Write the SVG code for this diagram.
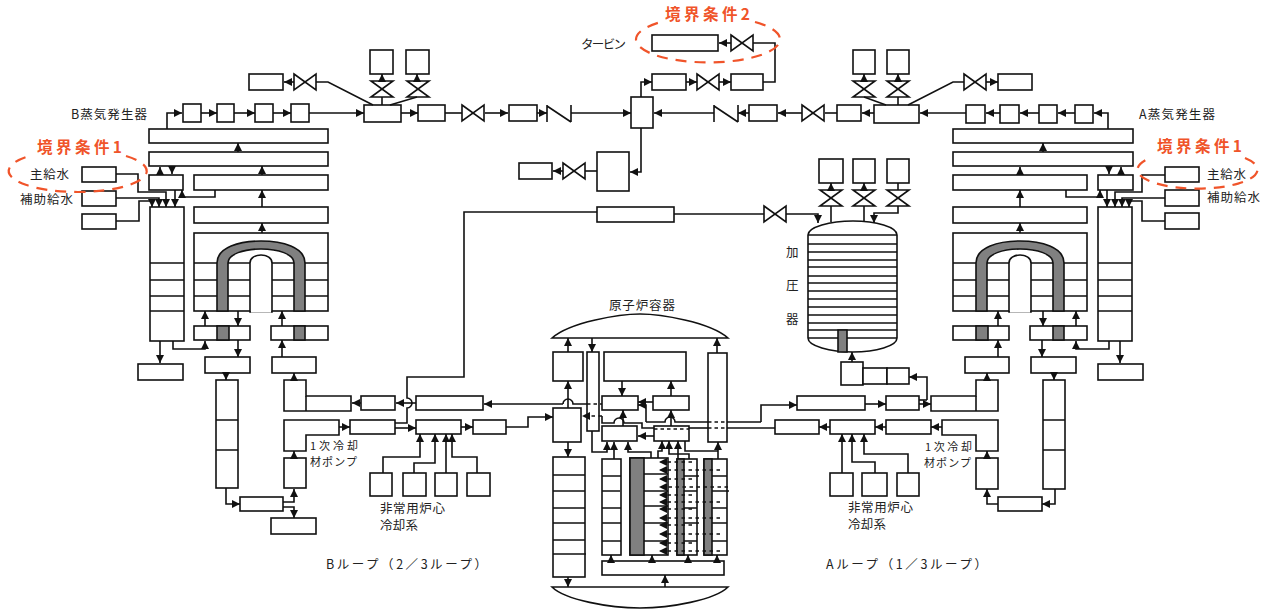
<svg xmlns="http://www.w3.org/2000/svg" xmlns:xlink="http://www.w3.org/1999/xlink" width="1268" height="610" viewBox="0 0 1268 610">
<style>
.b{fill:#fff;stroke:#111;stroke-width:1.6}
.g{fill:#808080;stroke:#111;stroke-width:1.6}
.l,.c,.a,.d,.e{fill:none;stroke:#111;stroke-width:1.6}
.a,.d{marker-end:url(#ah)}
.d{stroke-dasharray:3.5 3.5}
.e{stroke-dasharray:3.5 3}
.t{font-family:"Noto Sans CJK JP","Noto Sans",sans-serif;font-size:12.5px;fill:#222}
.s{font-size:11px}
.o{font-family:"Noto Sans CJK JP","Noto Sans",sans-serif;font-size:15.5px;font-weight:700;fill:#F0542A}
.r{fill:none;stroke:#F0542A;stroke-width:2.2;stroke-dasharray:11 8}
</style>
<defs>
<marker id="ah" markerUnits="userSpaceOnUse" markerWidth="9" markerHeight="9" refX="8" refY="4" orient="auto"><path d="M0,0L8,4L0,8z" fill="#111"/></marker>
<path id="vh" class="b" d="M0,0L22,16V0L0,16Z"/>
<path id="vv" class="b" d="M0,0H22L0,16H22Z"/>
<path id="cv" class="l" d="M0,0V17M0,1L24,17M24,0V17"/>
<g id="tubes">
<rect class="b" x="194" y="233" width="134" height="78"/>
<path class="l" d="M194,263H217M228,263H250M272,263H294M305,263H328M194,280H217M228,280H250M272,280H294M305,280H328M194,296H217M228,296H250M272,296H294M305,296H328"/>
<path class="g" d="M217,311V263C217,247 240,241 261,241C282,241 305,247 305,263V311H294V263C294,254 278,249 261,249C244,249 228,254 228,263V311Z"/>
<path d="M250,312V263C250,258 255,255 261,255C267,255 272,258 272,263V312Z" fill="#fff" stroke="#111" stroke-width="1.6"/>
<path d="M251,311.5H271" stroke="#fff" stroke-width="2.2"/>
</g>
<g id="plena">
<rect class="b" x="194" y="326" width="56" height="14"/><rect class="g" x="217" y="326" width="12" height="14"/>
<rect class="b" x="271" y="326" width="57" height="14"/><rect class="g" x="294" y="326" width="11" height="14"/>
</g>
<g id="col"><rect class="b" x="150" y="207" width="34" height="134"/><path class="l" d="M150,263H184M150,280H184M150,296H184M150,311H184"/></g>
</defs>

<g id="sg-b">
<use xlink:href="#tubes" href="#tubes"/><use xlink:href="#plena" href="#plena"/><use xlink:href="#col" href="#col"/>
<rect class="b" x="149" y="129" width="179" height="14"/><rect class="b" x="149" y="152" width="179" height="14"/>
<rect class="b" x="149" y="175" width="34" height="15"/><rect class="b" x="194" y="175" width="134" height="15"/><rect class="b" x="194" y="207" width="134" height="16"/>
</g>
<g id="sg-a">
<use xlink:href="#tubes" href="#tubes" x="759"/><use xlink:href="#plena" href="#plena" x="759"/><use xlink:href="#col" href="#col" x="948"/>
<rect class="b" x="953" y="129" width="180" height="14"/><rect class="b" x="953" y="152" width="180" height="14"/>
<rect class="b" x="1098" y="175" width="35" height="15"/><rect class="b" x="953" y="175" width="134" height="15"/><rect class="b" x="953" y="207" width="134" height="16"/>
</g>
<g id="feed-b"><rect class="b" x="82" y="167" width="34" height="15"/><rect class="b" x="82" y="191" width="34" height="15"/><rect class="b" x="82" y="214" width="34" height="15"/></g>
<g id="feed-a"><rect class="b" x="1165" y="167" width="34" height="15"/><rect class="b" x="1165" y="190" width="34" height="16"/><rect class="b" x="1165" y="213" width="34" height="16"/></g>
<g id="steam-b">
<rect class="b" x="249" y="74" width="34" height="16"/><use xlink:href="#vh" href="#vh" x="294" y="74"/>
<rect class="b" x="183" y="104" width="18" height="18"/><rect class="b" x="217" y="104" width="17" height="18"/><rect class="b" x="255" y="104" width="18" height="18"/><rect class="b" x="291" y="104" width="18" height="18"/>
<rect class="b" x="364" y="105" width="37" height="17"/>
<rect class="b" x="370" y="50" width="23" height="24"/><rect class="b" x="406" y="50" width="23" height="24"/>
<use xlink:href="#vv" href="#vv" x="371" y="81"/><use xlink:href="#vv" href="#vv" x="407" y="81"/>
<rect class="b" x="418" y="105" width="27" height="16"/><use xlink:href="#vh" href="#vh" x="462" y="105"/><rect class="b" x="509" y="105" width="28" height="16"/><use xlink:href="#cv" href="#cv" x="547" y="105"/>
</g>
<g id="steam-a">
<rect class="b" x="998" y="74" width="34" height="16"/><use xlink:href="#vh" href="#vh" x="964" y="74"/>
<rect class="b" x="966" y="105" width="19" height="18"/><rect class="b" x="1000" y="105" width="19" height="18"/><rect class="b" x="1039" y="105" width="18" height="18"/><rect class="b" x="1075" y="105" width="18" height="18"/>
<rect class="b" x="874" y="105" width="45" height="18"/>
<rect class="b" x="853" y="50" width="22" height="24"/><rect class="b" x="887" y="50" width="22" height="24"/>
<use xlink:href="#vv" href="#vv" x="853" y="81"/><use xlink:href="#vv" href="#vv" x="887" y="81"/>
<rect class="b" x="837" y="105" width="24" height="16"/><use xlink:href="#vh" href="#vh" x="802" y="105"/><rect class="b" x="749" y="105" width="28" height="16"/><use xlink:href="#cv" href="#cv" x="714" y="105"/>
</g>
<g id="turbine">
<rect class="b" x="631" y="97" width="22" height="31"/>
<rect class="b" x="652" y="74" width="34" height="16"/><use xlink:href="#vh" href="#vh" x="697" y="74"/><rect class="b" x="731" y="74" width="32" height="16"/>
<rect class="b" x="652" y="35" width="66" height="16"/><use xlink:href="#vh" href="#vh" x="731" y="35"/>
<rect class="b" x="597" y="152" width="32" height="39"/><use xlink:href="#vh" href="#vh" x="563" y="163"/><rect class="b" x="519" y="163" width="33" height="16"/>
</g>
<g id="pressurizer">
<path class="b" d="M808,235C808,227 830,221 853,221C876,221 897,227 897,235V338C897,346 876,352 853,352C830,352 808,346 808,338Z"/>
<path class="l" d="M808,235H897M808,244H897M808,252H897M808,260H897M808,267H897M808,276H897M808,283H897M808,291H897M808,299H897M808,307H897M808,315H897M808,323H897M808,330H897M808,338H897"/>
<path class="g" d="M838,330H847V352H838Z"/>
<rect class="b" x="819" y="159" width="24" height="24"/><rect class="b" x="853" y="159" width="22" height="24"/><rect class="b" x="887" y="159" width="22" height="24"/>
<use xlink:href="#vv" href="#vv" x="820" y="190"/><use xlink:href="#vv" href="#vv" x="853" y="190"/><use xlink:href="#vv" href="#vv" x="887" y="190"/>
<rect class="b" x="597" y="207" width="77" height="15"/><use xlink:href="#vh" href="#vh" x="764" y="206"/>
<rect class="b" x="841" y="362" width="22" height="23"/><rect class="b" x="863" y="368" width="24" height="16"/><rect class="b" x="887" y="368" width="22" height="16"/>
</g>
<g id="loop-b">
<rect class="b" x="138" y="364" width="45" height="16"/><rect class="b" x="205" y="357" width="45" height="16"/><rect class="b" x="272" y="357" width="44" height="16"/>
<rect class="b" x="216" y="380" width="22" height="108"/><path class="l" d="M216,420H238M216,450H238"/>
<path class="b" d="M284,380H306V396H351V411H284Z"/><path class="l" d="M306,396V411"/>
<path class="b" d="M284,420H339V435H306V451H284Z"/>
<rect class="b" x="284" y="458" width="22" height="30"/><rect class="b" x="240" y="497" width="43" height="14"/><rect class="b" x="271" y="518" width="45" height="16"/>
<rect class="b" x="361" y="396" width="34" height="14"/><rect class="b" x="416" y="396" width="67" height="14"/>
<rect class="b" x="350" y="420" width="45" height="14"/><rect class="b" x="416" y="420" width="45" height="14"/><rect class="b" x="473" y="420" width="33" height="14"/>
<rect class="b" x="370" y="473" width="22" height="23"/><rect class="b" x="403" y="473" width="23" height="23"/><rect class="b" x="435" y="473" width="22" height="23"/><rect class="b" x="467" y="473" width="23" height="23"/>
</g>
<g id="loop-a">
<rect class="b" x="1098" y="364" width="45" height="16"/><rect class="b" x="1031" y="357" width="45" height="16"/><rect class="b" x="965" y="357" width="44" height="16"/>
<rect class="b" x="1043" y="380" width="22" height="109"/><path class="l" d="M1043,420H1065M1043,450H1065"/>
<path class="b" d="M998,380H976V396H931V411H998Z"/><path class="l" d="M976,396V411"/>
<path class="b" d="M998,420H942V435H976V451H998Z"/>
<rect class="b" x="976" y="458" width="22" height="31"/><rect class="b" x="998" y="497" width="44" height="14"/>
<rect class="b" x="886" y="396" width="33" height="14"/><rect class="b" x="797" y="396" width="68" height="14"/>
<rect class="b" x="886" y="420" width="45" height="14"/><rect class="b" x="830" y="420" width="45" height="14"/><rect class="b" x="775" y="420" width="44" height="14"/>
<rect class="b" x="830" y="473" width="23" height="23"/><rect class="b" x="862" y="473" width="25" height="23"/><rect class="b" x="897" y="473" width="22" height="23"/>
</g>
<g id="vessel">
<path class="b" d="M552,338C570,322 620,314 640,314C660,314 710,322 728,338Z"/>
<path class="b" d="M552,587C565,600 610,608 640,608C670,608 715,600 728,587Z"/>
<rect class="b" x="553" y="352" width="30" height="29"/><rect class="b" x="587" y="352" width="12" height="79"/><rect class="b" x="604" y="352" width="82" height="29"/>
<rect class="b" x="602" y="396" width="36" height="14"/><rect class="b" x="653" y="396" width="36" height="14"/><rect class="b" x="602" y="426" width="35" height="15"/><rect class="b" x="654" y="426" width="35" height="15"/>
<rect class="b" x="708" y="353" width="19" height="89"/><rect class="b" x="553" y="408" width="28" height="34"/>
<rect class="b" x="553" y="457" width="32" height="120"/><path class="l" d="M553,475H585M553,491H585M553,508H585M553,523H585M553,540H585M553,554H586"/>
<rect class="b" x="602" y="459" width="19" height="96"/><path class="l" d="M602,476H621M602,491H620M602,508H621M602,523H621M602,541H621"/>
<rect class="b" x="630" y="458" width="38" height="97"/><rect class="g" x="630" y="458" width="14" height="97"/><path class="l" d="M644,474H668M644,491H668M644,506H668M644,523H668M644,541H668"/>
<rect class="b" x="677" y="459" width="20" height="96"/><rect class="g" x="677" y="459" width="7" height="96"/><path class="l" d="M684,476H699M684,491H697M684,508H697M684,523H699M684,541H697"/>
<rect class="b" x="704" y="459" width="23" height="96"/><rect class="g" x="704" y="459" width="8" height="96"/><path class="l" d="M712,476H727M712,491H729M712,508H727M712,523H727M712,541H727"/>
<rect class="b" x="602" y="561" width="122" height="14"/>
</g>

<g id="connectors">
<path class="a" d="M167,129V113H182"/><path class="a" d="M201,113H217"/><path class="a" d="M234,113H255"/><path class="a" d="M273,113H291"/><path class="a" d="M309,113H364"/>
<path class="a" d="M294,82H284"/><path class="c" d="M316,82H328L373,105"/>
<path class="a" d="M382,81V74"/><path class="c" d="M382,97V105"/><path class="a" d="M417,81V74"/><path class="c" d="M417,97L390,105"/>
<path class="a" d="M401,113H418"/><path class="c" d="M445,113H462"/><path class="a" d="M485,113H508"/><path class="a" d="M537,113H547"/><path class="a" d="M571,113H631"/>
<path class="a" d="M238,152V143"/><path class="a" d="M262,175V166"/><path class="a" d="M262,207V190"/><path class="a" d="M262,233V223"/>
<path class="a" d="M160,175V167"/><path class="a" d="M172,166V174"/><path class="a" d="M175,190V207"/><path class="a" d="M215,190V197H182V190"/>
<path class="a" d="M116,174H138V192H166V207"/><path class="a" d="M116,198H159V207"/><path class="a" d="M116,221H139V201H152V207"/>
<path class="a" d="M160,341V363"/><path class="a" d="M173,341V349H205V341"/><path class="a" d="M205,326V311"/><path class="a" d="M238,311V326"/><path class="a" d="M238,340V357"/><path class="a" d="M282,326V311"/><path class="a" d="M282,357V340"/>
<path class="a" d="M226,373V380"/><path class="a" d="M294,380V373"/><path class="a" d="M294,458V451"/>
<path class="a" d="M226,488V504H240"/><path class="a" d="M283,502H294V489"/><path class="a" d="M283,507H294V518"/>
<path class="a" d="M361,403H352"/><path class="a" d="M416,403H396"/><path class="a" d="M339,427H350"/>
<path class="c" d="M395,423H407V408A5,5 0 0 0 407,398V377H464V212H597"/>
<path class="a" d="M395,428H416"/><path class="a" d="M461,427H473"/><path class="a" d="M506,427H528V417H553"/>
<path class="a" d="M383,473V457H420V434"/><path class="a" d="M414,473V463H435V434"/><path class="a" d="M446,473V434"/><path class="a" d="M477,473V457H452V434"/>
<path class="a" d="M641,97V82H652"/><path class="a" d="M686,82H697"/><path class="a" d="M719,82H731"/><path class="c" d="M763,82H775V43H753"/><path class="a" d="M731,43H719"/>
<path class="a" d="M641,128V172H630"/><path class="c" d="M597,171H585"/><path class="a" d="M563,171H553"/>
<path class="a" d="M1108,129V113H1094"/><path class="a" d="M1075,113H1058"/><path class="a" d="M1039,113H1020"/><path class="a" d="M1000,113H986"/><path class="a" d="M966,113H920"/>
<path class="a" d="M986,82H998"/><path class="c" d="M964,82H953L908,105"/>
<path class="a" d="M864,81V74"/><path class="c" d="M864,97L886,105"/><path class="a" d="M898,81V74"/><path class="c" d="M898,97V105"/>
<path class="a" d="M874,113H862"/><path class="c" d="M837,113H825"/><path class="a" d="M802,113H778"/><path class="a" d="M749,113H738"/><path class="a" d="M714,113H654"/>
<path class="a" d="M1043,152V143"/><path class="a" d="M1020,175V167"/><path class="a" d="M1020,207V190"/><path class="a" d="M1020,233V223"/>
<path class="a" d="M1121,175V167"/><path class="a" d="M1109,166V174"/><path class="a" d="M1107,190V207"/><path class="a" d="M1066,190V197H1100V190"/>
<path class="a" d="M1165,175H1142V192H1115V207"/><path class="a" d="M1165,198H1122V207"/><path class="a" d="M1165,221H1142V201H1129V207"/>
<path class="a" d="M1120,341V363"/><path class="a" d="M1109,341V349H1076V341"/><path class="a" d="M1076,326V311"/><path class="a" d="M1043,311V326"/><path class="a" d="M1042,340V357"/><path class="a" d="M998,326V311"/><path class="a" d="M998,357V340"/>
<path class="a" d="M1054,373V380"/><path class="a" d="M987,380V373"/><path class="a" d="M987,458V451"/>
<path class="a" d="M1055,489V504H1042"/><path class="a" d="M998,504H987V489"/>
<path class="a" d="M919,404H931"/><path class="c" d="M919,400H927"/><path class="a" d="M927,400V377H909"/><path class="a" d="M865,404H886"/><path class="a" d="M761,422V405H797"/>
<path class="a" d="M942,427H931"/><path class="a" d="M886,427H875"/><path class="a" d="M830,427H819"/>
<path class="a" d="M842,473V434"/><path class="a" d="M875,473V462H852V434"/><path class="a" d="M908,473V454H864V434"/>
<path class="a" d="M852,362V352"/>
<path class="c" d="M674,214H764"/><path class="a" d="M786,214H818V223"/>
<path class="a" d="M831,190V183"/><path class="c" d="M831,206V222"/><path class="a" d="M864,190V183"/><path class="c" d="M864,206V222"/><path class="c" d="M898,183V190"/><path class="a" d="M898,206V213H874V223"/>
<path class="a" d="M568,352V338"/><path class="a" d="M592,338V352"/><path class="a" d="M717,353V338"/>
<path class="a" d="M568,408V381"/><path class="a" d="M622,381V396"/><path class="a" d="M671,396V381"/>
<path class="a" d="M563,404H484"/><path class="c" d="M563,404A5,5 0 0 1 573,404H587"/><path class="e" d="M587,404H602"/>
<path class="d" d="M602,416H582"/><path class="c" d="M602,416V423H614A5,5 0 0 1 624,423H642V428H654"/>
<path class="a" d="M623,426V410"/>
<path class="a" d="M653,402H638"/><path class="a" d="M646,422V405H638"/><path class="c" d="M646,422H665A5,5 0 0 1 675,422H708"/><path class="e" d="M708,422H727"/><path class="c" d="M727,422H761"/>
<path class="a" d="M671,426V410"/><path class="e" d="M654,429H689"/><path class="c" d="M689,428H708"/><path class="e" d="M708,428H727"/><path class="c" d="M727,428H775"/>
<path class="a" d="M654,436H638"/>
<path class="a" d="M568,442V457"/><path class="a" d="M568,577V587"/><path class="a" d="M665,587V575"/>
<path class="a" d="M611,561V555"/><path class="a" d="M652,561V555"/><path class="a" d="M688,561V555"/><path class="a" d="M717,561V555"/>
<path class="a" d="M592,431V452H607V442"/><path class="a" d="M614,459V442"/><path class="a" d="M651,458V452H628V442"/><path class="a" d="M658,458V451H662V441"/><path class="a" d="M689,459V454H669V441"/><path class="a" d="M678,459V441"/><path class="a" d="M718,459V442"/><path class="c" d="M685,441V451H718"/>
<path class="d" d="M692,462H659"/><path class="d" d="M720,470H659"/><path class="d" d="M692,479H659"/><path class="d" d="M728,487H659"/><path class="d" d="M692,495H659"/><path class="d" d="M720,502H659"/><path class="d" d="M692,509H659"/><path class="d" d="M720,518H659"/><path class="d" d="M692,525H659"/><path class="d" d="M720,534H659"/><path class="d" d="M692,543H659"/><path class="d" d="M720,551H659"/>
</g>

<g id="labels">
<text class="t" x="71" y="119" textLength="76" lengthAdjust="spacing">B蒸気発生器</text>
<text class="t" x="1139" y="119" textLength="76" lengthAdjust="spacing">A蒸気発生器</text>
<text class="t" x="30" y="179" textLength="39" lengthAdjust="spacing">主給水</text>
<text class="t" x="20" y="204" textLength="53" lengthAdjust="spacing">補助給水</text>
<text class="t" x="1207" y="179" textLength="39" lengthAdjust="spacing">主給水</text>
<text class="t" x="1207" y="202" textLength="53" lengthAdjust="spacing">補助給水</text>
<text class="t" x="581" y="49" textLength="45" lengthAdjust="spacing">タービン</text>
<text class="t s" x="310" y="450" textLength="48" lengthAdjust="spacing">1次冷却</text>
<text class="t s" x="310" y="466" textLength="47" lengthAdjust="spacing">材ポンプ</text>
<text class="t s" x="925" y="451" textLength="47" lengthAdjust="spacing">1次冷却</text>
<text class="t s" x="924" y="467" textLength="47" lengthAdjust="spacing">材ポンプ</text>
<text class="t" x="380" y="513" textLength="65" lengthAdjust="spacing">非常用炉心</text>
<text class="t" x="380" y="530" textLength="38" lengthAdjust="spacing">冷却系</text>
<text class="t" x="848" y="512" textLength="65" lengthAdjust="spacing">非常用炉心</text>
<text class="t" x="848" y="529" textLength="38" lengthAdjust="spacing">冷却系</text>
<text class="t" x="609" y="310" textLength="66" lengthAdjust="spacing">原子炉容器</text>
<text class="t" x="786" y="257">加</text>
<text class="t" x="786" y="290">圧</text>
<text class="t" x="786" y="324">器</text>
<text class="t" x="326" y="569" textLength="161" lengthAdjust="spacing">Bループ（2／3ループ）</text>
<text class="t" x="826" y="569" textLength="161" lengthAdjust="spacing">Aループ（1／3ループ）</text>
</g>
<g id="boundaries">
<path class="r" d="M126,156A69,21 0 1 1 33,155"/>
<path class="r" d="M1245,158A60,19 0 1 1 1150,158"/>
<path class="r" d="M755,22A72,23 0 1 1 661,22"/>
<text class="o" x="37" y="153" textLength="85" lengthAdjust="spacing">境界条件1</text>
<text class="o" x="1157" y="152" textLength="85" lengthAdjust="spacing">境界条件1</text>
<text class="o" x="665" y="20" textLength="85" lengthAdjust="spacing">境界条件2</text>
</g>
</svg>
